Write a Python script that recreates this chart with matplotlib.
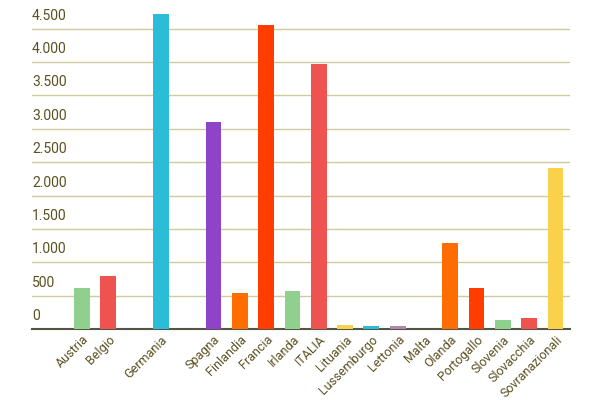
import matplotlib.pyplot as plt

countries = ["Austria", "Belgio", "", "Germania", "", "Spagna", "Finlandia", "Francia",
             "Irlanda", "ITALIA", "Lituania", "Lussemburgo", "Lettonia", "Malta", "Olanda",
             "Portogallo", "Slovenia", "Slovacchia", "Sovranazionali"]
values = [615, 795, 0, 4725, 0, 3100, 540, 4560, 570, 3970, 60, 45, 45, 0, 1290, 615,
          135, 165, 2415]
colors = ["#8fd08f", "#ef5350", "#f9d14a", "#2bbcd8", "#8e44c8", "#8e44c8", "#ff6d00",
          "#ff3d00", "#8fd08f", "#ef5350", "#f9d14a", "#2bbcd8", "#b087b0", "#ff6d00",
          "#ff6d00", "#ff3d00", "#8fd08f", "#ef5350", "#f9d14a"]
yticks = [0, 500, 1000, 1500, 2000, 2500, 3000, 3500, 4000, 4500]

plt.rcParams["font.family"] = ["Roboto", "DejaVu Sans"]
txt = "#5b5020"

fig = plt.figure(figsize=(6, 4), dpi=100)
ax = fig.add_axes([32 / 600, 71 / 400, 538 / 600, 319 / 400])
x = range(len(countries))
ax.bar(x, values, width=0.6, color=colors, zorder=3)
ax.set_xlim(-1.9, 18.55)
ax.set_ylim(0, 4780)
ax.set_yticks(yticks)
ax.set_yticklabels([])
for v in yticks:
    ax.text(0, v + 90, f"{v:,}".replace(",", "."), transform=ax.get_yaxis_transform(),
            ha="left", va="bottom", fontsize=10, color=txt)
ax.set_xticks(list(x))
ax.set_xticklabels(countries, rotation=45, ha="right", rotation_mode="anchor",
                   fontsize=9, color=txt)
ax.tick_params(axis="y", length=0)
ax.tick_params(axis="x", length=0, pad=3)
ax.grid(axis="y", color="#d0ca9c", linewidth=1, zorder=0)
for s in ["top", "right", "left"]:
    ax.spines[s].set_visible(False)
ax.spines["bottom"].set_color("#555544")
ax.spines["bottom"].set_linewidth(1.5)
fig.savefig("out.png", dpi=100)
